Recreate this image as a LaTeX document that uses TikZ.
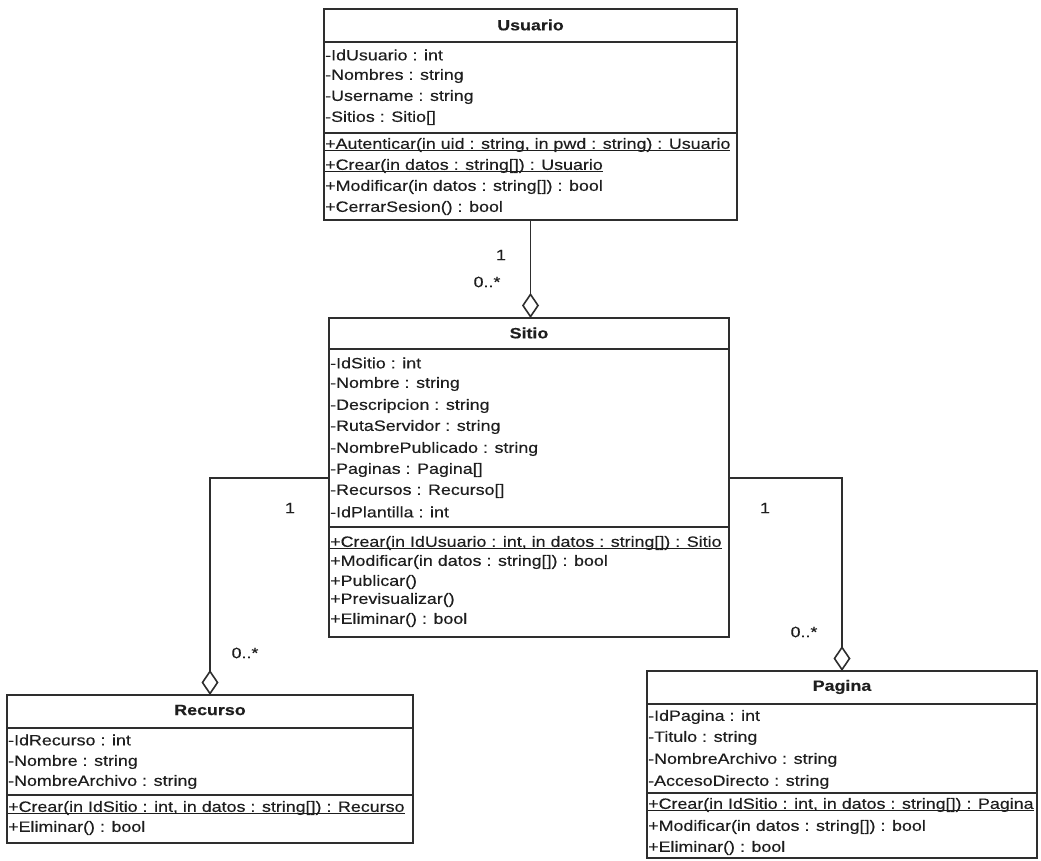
\documentclass[tikz,border=0pt]{standalone}
\usepackage{fontspec}
\setmainfont[FakeStretch=1.19,FakeBold=0.3]{Liberation Sans}
\usetikzlibrary{arrows.meta}
\definecolor{linec}{HTML}{2E2E2E}
\definecolor{txt}{HTML}{1E1E1E}
% underline drawn close to the baseline, for static operations
\newcommand\staticop[1]{\setbox0\hbox{#1}\rlap{\rule[-1.8pt]{\wd0}{0.9pt}}\box0}

\begin{document}
\begin{tikzpicture}[x=1pt,y=-1pt,
  classbox/.style={draw=linec, line width=1.8pt, anchor=north west, inner sep=0pt, outer sep=0pt},
  sepline/.style={draw=linec, line width=1.4pt},
  row/.style={anchor=west, inner sep=0pt, text=txt, font=\fontsize{15}{18}\selectfont},
  ctitle/.style={inner sep=0pt, text=txt, font=\fontsize{15}{18}\selectfont\bfseries},
  mult/.style={inner sep=0pt, text=txt, font=\fontsize{15}{18}\selectfont},
  agg/.style={draw=linec, line width=1.8pt,
    -{Diamond[open, length=25pt, width=17pt, line width=1.6pt]}}
]
\useasboundingbox[fill=white] (0,0) rectangle (1041,861);

% ---------------- Usuario ----------------
\node[classbox, minimum width=413pt, minimum height=211pt] (usuario) at (324,9) {};
\draw[sepline] (usuario.west |- 0,42) -- (usuario.east |- 0,42);
\draw[sepline] (usuario.west |- 0,133) -- (usuario.east |- 0,133);
\node[ctitle] (usuarioT) at (530.5,25) {Usuario};
\node[row] (ua1) at (325,55)  {-IdUsuario : int};
\node[row] (ua2) at (325,76)  {-Nombres : string};
\node[row] (ua3) at (325,97)  {-Username : string};
\node[row] (ua4) at (325,118) {-Sitios : Sitio[]};
\node[row] (um1) at (325,145) {\staticop{+Autenticar(in uid : string, in pwd : string) : Usuario}};
\node[row] (um2) at (325,166) {\staticop{+Crear(in datos : string[]) : Usuario}};
\node[row] (um3) at (325,187) {+Modificar(in datos : string[]) : bool};
\node[row] (um4) at (325,208) {+CerrarSesion() : bool};

% ---------------- Sitio ----------------
\node[classbox, minimum width=400pt, minimum height=319pt] (sitio) at (329,318) {};
\draw[sepline] (sitio.west |- 0,349) -- (sitio.east |- 0,349);
\draw[sepline] (sitio.west |- 0,527) -- (sitio.east |- 0,527);
\node[ctitle] (sitioT) at (529,333) {Sitio};
\node[row] (sa1) at (330,363) {-IdSitio : int};
\node[row] (sa2) at (330,384) {-Nombre : string};
\node[row] (sa3) at (330,406) {-Descripcion : string};
\node[row] (sa4) at (330,427) {-RutaServidor : string};
\node[row] (sa5) at (330,449) {-NombrePublicado : string};
\node[row] (sa6) at (330,470) {-Paginas : Pagina[]};
\node[row] (sa7) at (330,491) {-Recursos : Recurso[]};
\node[row] (sa8) at (330,512) {-IdPlantilla : int};
\node[row] (sm1) at (330,543) {\staticop{+Crear(in IdUsuario : int, in datos : string[]) : Sitio}};
\node[row] (sm2) at (330,562) {+Modificar(in datos : string[]) : bool};
\node[row] (sm3) at (330,582) {+Publicar()};
\node[row] (sm4) at (330,600) {+Previsualizar()};
\node[row] (sm5) at (330,620) {+Eliminar() : bool};

% ---------------- Recurso ----------------
\node[classbox, minimum width=406pt, minimum height=148pt] (recurso) at (7,695) {};
\draw[sepline] (recurso.west |- 0,728) -- (recurso.east |- 0,728);
\draw[sepline] (recurso.west |- 0,795) -- (recurso.east |- 0,795);
\node[ctitle] (recursoT) at (210,710) {Recurso};
\node[row] (ra1) at (8,740) {-IdRecurso : int};
\node[row] (ra2) at (8,762) {-Nombre : string};
\node[row] (ra3) at (8,782) {-NombreArchivo : string};
\node[row] (rm1) at (8,808) {\staticop{+Crear(in IdSitio : int, in datos : string[]) : Recurso}};
\node[row] (rm2) at (8,828) {+Eliminar() : bool};

% ---------------- Pagina ----------------
\node[classbox, minimum width=390pt, minimum height=187pt] (pagina) at (647,671) {};
\draw[sepline] (pagina.west |- 0,704) -- (pagina.east |- 0,704);
\draw[sepline] (pagina.west |- 0,793) -- (pagina.east |- 0,793);
\node[ctitle] (paginaT) at (842,687) {Pagina};
\node[row] (pa1) at (648,717) {-IdPagina : int};
\node[row] (pa2) at (648,738) {-Titulo : string};
\node[row] (pa3) at (648,760) {-NombreArchivo : string};
\node[row] (pa4) at (648,782) {-AccesoDirecto : string};
\node[row] (pm1) at (648,805) {\staticop{+Crear(in IdSitio : int, in datos : string[]) : Pagina}};
\node[row] (pm2) at (648,827) {+Modificar(in datos : string[]) : bool};
\node[row] (pm3) at (648,848) {+Eliminar() : bool};

% ---------------- aggregations ----------------
\draw[agg] (usuario.south) -- (usuario.south |- sitio.north);
\draw[agg] (sitio.west |- 0,478) -| (recurso.north);
\draw[agg] (sitio.east |- 0,478) -| (pagina.north);

% multiplicities
\node[mult] (m1) at (501,255) {1};
\node[mult] (m2) at (487,282) {0..*};
\node[mult] (m3) at (290,508) {1};
\node[mult] (m4) at (245,653) {0..*};
\node[mult] (m5) at (765,508) {1};
\node[mult] (m6) at (804,632) {0..*};
\end{tikzpicture}
\end{document}
